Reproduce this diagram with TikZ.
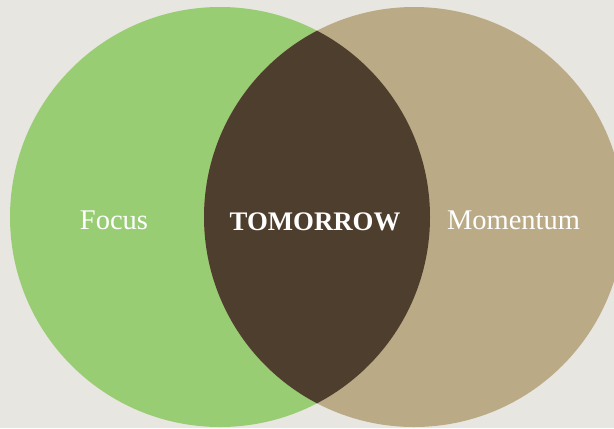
\documentclass[tikz,border=0pt]{standalone}
\usepackage{fontspec}
\setmainfont{Liberation Serif}
\definecolor{bgrey}{HTML}{E8E6E0}
\definecolor{lgreen}{HTML}{99CD74}
\definecolor{ltan}{HTML}{BBAA86}
\definecolor{dbrown}{HTML}{4E3E2D}
\newcommand{\rad}{210}
\newcommand{\cy}{217}
% left and right set centres
\newcommand{\lx}{220}
\newcommand{\rx}{414}
\tikzset{
  word/.style={text=white, anchor=base, inner sep=0pt,
    font=\fontsize{28.5bp}{30bp}\selectfont},
  bigword/.style={word, font=\fontsize{26.8bp}{30bp}\selectfont\bfseries}
}
\newcommand{\lbl}[3]{\node[word] (#1) at (#2,229.5) {#3};}

\begin{document}
\begin{tikzpicture}[x=1bp,y=-1bp]
\useasboundingbox (0,0) rectangle (614,428);
\fill[bgrey] (0,0) rectangle (614,428);
\clip (0,0) rectangle (614,428);

% the two sets
\fill[lgreen] (\lx,\cy) circle (\rad);
\fill[ltan] (\rx,\cy) circle (\rad);

% overlap
\begin{scope}
\clip (\lx,\cy) circle (\rad);
\fill[dbrown] (\rx,\cy) circle (\rad);
\end{scope}

% labels
\lbl{focus}{114}{Focus}
\node[bigword] (tomorrow) at (315,230.5) {TOMORROW};
\lbl{momentum}{513.5}{Momentum}
\end{tikzpicture}
\end{document}
